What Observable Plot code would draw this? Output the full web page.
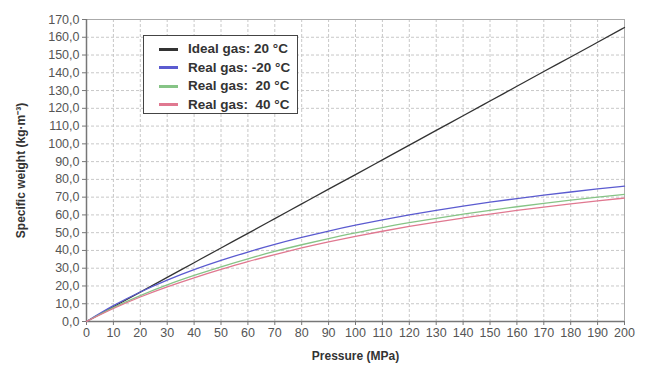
<!DOCTYPE html>
<html><head><meta charset="utf-8">
<script src="https://cdn.jsdelivr.net/npm/d3@7"></script>
<script src="https://cdn.jsdelivr.net/npm/@observablehq/plot@0.6"></script>
<style>
body{margin:0;background:#fff;font-family:Arial,"Liberation Sans",sans-serif;}
#wrap{position:relative;width:646px;height:365px;}
svg [aria-label="y-axis label"] text, svg [aria-label="x-axis label"] text{font-weight:bold;fill:#333;font-size:12px;}
#legend{position:absolute;left:143px;top:35px;width:155px;height:79px;border:1.5px solid #444;background:#fff;box-sizing:border-box;font-weight:bold;font-size:13.5px;color:#333;}
#legend .row{position:absolute;left:15px;height:18px;line-height:18px;white-space:pre;}
#legend .sw{display:inline-block;width:19px;height:3px;vertical-align:middle;margin-right:10px;}
</style></head>
<body><div id="wrap"></div>
<script>
const pressure = [0,10,20,30,40,50,60,70,80,90,100,110,120,130,140,150,160,170,180,190,200];
const idealGas20 = [0,8.3,16.5,24.8,33.1,41.4,49.6,57.9,66.2,74.5,82.7,91.0,99.3,107.6,115.8,124.1,132.4,140.7,148.9,157.2,165.5];
const realGasM20 = [0,8.9,16.6,23.3,29.2,34.4,39.1,43.4,47.3,50.9,54.2,57.2,60.0,62.6,65.0,67.2,69.2,71.1,72.9,74.6,76.2];
const realGas20 = [0,7.8,14.6,20.6,25.9,30.8,35.3,39.5,43.2,46.7,49.9,52.9,55.6,58.1,60.4,62.6,64.6,66.5,68.3,70.0,71.6];
const realGas40 = [0,7.3,13.8,19.5,24.6,29.3,33.7,37.7,41.4,44.8,47.9,50.8,53.5,56.0,58.3,60.5,62.5,64.4,66.2,67.9,69.5];
const seriesNames = ["Ideal gas: 20 °C","Real gas: -20 °C","Real gas:  20 °C","Real gas:  40 °C"];
const seriesColors = ["#333333","#5b5bd0","#86c486","#e07890"];
const xTicks = d3.range(0,201,10);
const yTicks = d3.range(0,171,10);

const allSeries = [idealGas20, realGasM20, realGas20, realGas40];
const data = [];
allSeries.forEach((vals,i)=>vals.forEach((v,j)=>data.push({series:seriesNames[i], p:pressure[j], w:v})));
const fmt = v => d3.format(".1f")(v).replace(".",",");

const chart = Plot.plot({
  width:646, height:365,
  marginLeft:86, marginRight:22, marginTop:19, marginBottom:44,
  style:{fontFamily:"Arial, 'Liberation Sans', sans-serif", fontSize:"12.5px", color:"#555", background:"#fff"},
  x:{domain:[0,200]},
  y:{domain:[0,170]},
  color:{domain:seriesNames, range:seriesColors},
  marks:[
    Plot.gridX(xTicks,{stroke:"#c8c8c8", strokeOpacity:1, strokeDasharray:"3,2"}),
    Plot.gridY(yTicks,{stroke:"#c8c8c8", strokeOpacity:1, strokeDasharray:"3,2"}),
    Plot.frame({stroke:"#aaa"}),
    Plot.axisX({ticks:xTicks, tickSize:4, tickPadding:3, stroke:"#777", label:"Pressure (MPa)", labelAnchor:"center", labelArrow:"none", labelOffset:38}),
    Plot.axisY({ticks:yTicks, tickSize:4, tickPadding:3, tickFormat:fmt, stroke:"#777", label:"Specific weight (kg·m⁻³)", labelAnchor:"center", labelArrow:"none", labelOffset:70}),
    Plot.ruleX([0],{stroke:"#777", strokeWidth:1.5}),
    Plot.ruleY([0],{stroke:"#777", strokeWidth:1.5}),
    Plot.line(data,{x:"p", y:"w", z:"series", stroke:"series", strokeWidth:1.3, curve:"natural"})
  ]
});
const wrap = document.getElementById("wrap");
wrap.appendChild(chart);
const leg = document.createElement("div");
leg.id="legend";
seriesNames.forEach((n,i)=>{
  const r=document.createElement("div");
  r.className="row";
  r.style.top=(4+i*18.5)+"px";
  r.innerHTML=`<span class="sw" style="background:${seriesColors[i]}"></span>${n}`;
  leg.appendChild(r);
});
wrap.appendChild(leg);
</script></body></html>
